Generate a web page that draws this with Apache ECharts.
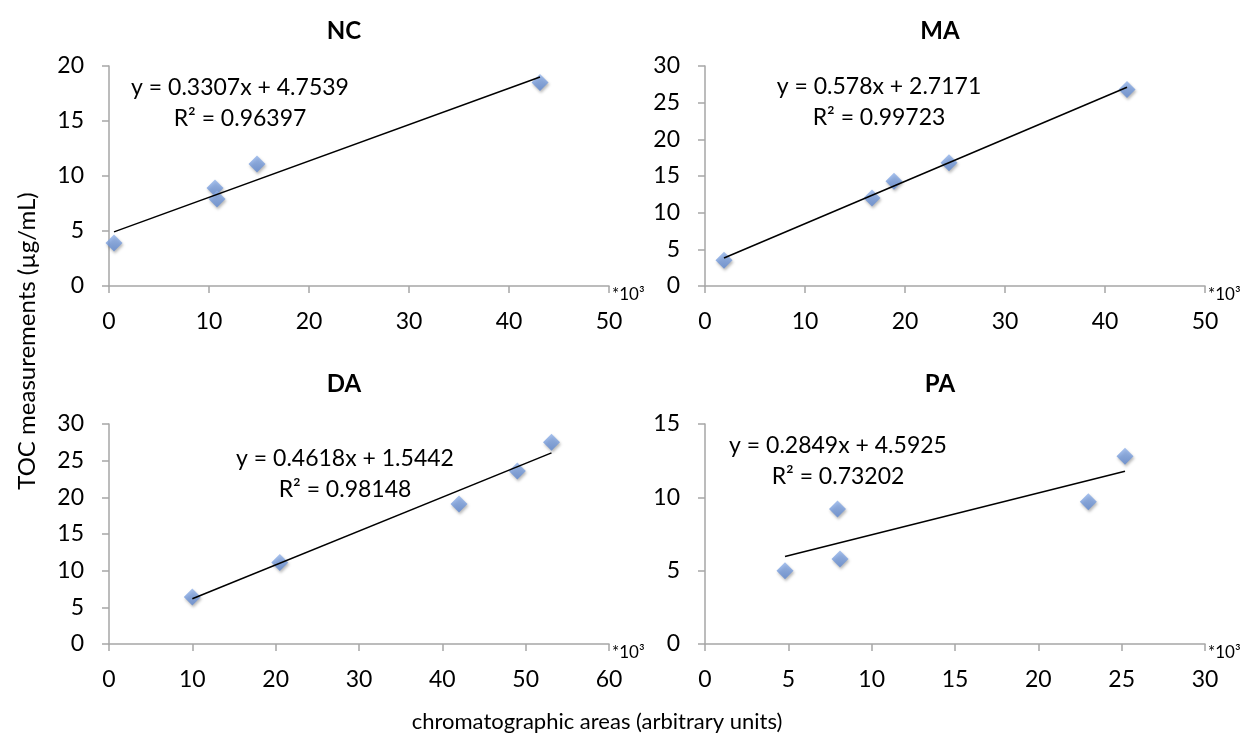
<!DOCTYPE html>
<html>
<head>
<meta charset="utf-8">
<script src="https://cdn.jsdelivr.net/npm/echarts@6/dist/echarts.min.js"></script>
<style>
  html, body { margin: 0; padding: 0; background: #fff; }
  #chart { width: 1248px; height: 748px; }
</style>
</head>
<body>
<div id="chart"></div>
<script>
// Panel names
const panels = ['NC', 'MA', 'DA', 'PA'];

// Chromatographic areas (x, in thousands) and TOC (µg/mL) per panel
const ncArea = [0.5, 10.6, 10.8, 14.8, 43.1];
const ncToc  = [3.9, 8.9, 7.9, 11.1, 18.5];
const maArea = [1.9, 16.7, 18.9, 24.4, 42.2];
const maToc  = [3.5, 12.0, 14.3, 16.8, 26.8];
const daArea = [10.0, 20.5, 42.0, 49.0, 53.1];
const daToc  = [6.4, 11.1, 19.1, 23.6, 27.5];
const paArea = [4.8, 7.95, 8.1, 23.0, 25.2];
const paToc  = [5.0, 9.2, 5.8, 9.7, 12.8];

// Linear fits (slope, intercept, R²)
const slopes     = [0.3307, 0.578, 0.4618, 0.2849];
const intercepts = [4.7539, 2.7171, 1.5442, 4.5925];
const r2Values   = ['0.96397', '0.99723', '0.98148', '0.73202'];

// Axis ranges
const xMax = [50, 50, 60, 30];
const xStep = [10, 10, 10, 5];
const yMax = [20, 30, 30, 15];
const yStep = [5, 5, 5, 5];

const areas = [ncArea, maArea, daArea, paArea];
const tocs = [ncToc, maToc, daToc, paToc];

const FONT = 'Lato, "Open Sans", sans-serif';
const axisGrey = '#a6a6a6';

const grids = [
  { left: 109, top: 66, width: 500, height: 220 },
  { left: 705, top: 66, width: 500, height: 220 },
  { left: 109, top: 424, width: 500, height: 220 },
  { left: 705, top: 424, width: 500, height: 220 }
];

const xAxes = panels.map((p, i) => ({
  type: 'value', gridIndex: i, min: 0, max: xMax[i], interval: xStep[i],
  name: '*10³', nameLocation: 'end', nameGap: 3,
  nameTextStyle: { fontFamily: FONT, fontSize: 17, color: '#000', verticalAlign: 'top', padding: [0, 0, 0, 0] },
  axisLine: { show: true, lineStyle: { color: axisGrey, width: 1.5 } },
  axisTick: { show: true, length: 7, lineStyle: { color: axisGrey, width: 1.5 } },
  axisLabel: { fontFamily: FONT, fontSize: 23, color: '#000', margin: 24 },
  splitLine: { show: false }
}));

const yAxes = panels.map((p, i) => ({
  type: 'value', gridIndex: i, min: 0, max: yMax[i], interval: yStep[i],
  axisLine: { show: true, lineStyle: { color: axisGrey, width: 1.5 } },
  axisTick: { show: true, length: 7, lineStyle: { color: axisGrey, width: 1.5 } },
  axisLabel: { fontFamily: FONT, fontSize: 23, color: '#000', margin: 25 },
  splitLine: { show: false }
}));

const markerColor = new echarts.graphic.LinearGradient(0, 0, 0, 1, [
  { offset: 0, color: '#92b3ea' },
  { offset: 1, color: '#5f88d0' }
]);

const series = [];
panels.forEach((p, i) => {
  series.push({
    type: 'scatter', name: p, xAxisIndex: i, yAxisIndex: i,
    symbol: 'diamond', symbolSize: [17, 17], z: 2,
    itemStyle: {
      color: markerColor,
      shadowBlur: 3, shadowColor: 'rgba(0,0,0,0.35)', shadowOffsetX: 1, shadowOffsetY: 2
    },
    data: areas[i].map((x, k) => [x, tocs[i][k]])
  });
  const lo = Math.min(...areas[i]);
  const hi = Math.max(...areas[i]);
  series.push({
    type: 'line', name: p + ' fit', xAxisIndex: i, yAxisIndex: i,
    showSymbol: false, silent: true, z: 3,
    lineStyle: { color: '#000', width: 1.5 },
    data: [[lo, slopes[i] * lo + intercepts[i]], [hi, slopes[i] * hi + intercepts[i]]]
  });
});

// Text placement: panel titles and fit equations
const titlePos = [[344, 31], [940, 31], [344, 384], [940, 384]];
const eqPos = [[240, 88], [879, 87], [345, 459], [838, 446]];

function txt(x, y, text, font, extra) {
  return Object.assign({
    type: 'text', x: x, y: y, silent: true,
    style: { text: text, font: font, fill: '#000', align: 'center', verticalAlign: 'middle',
             textAlign: 'center', textVerticalAlign: 'middle' }
  }, extra || {});
}

const graphics = [];
panels.forEach((p, i) => {
  graphics.push(txt(titlePos[i][0], titlePos[i][1], p, 'bold 24px ' + FONT));
  graphics.push(txt(eqPos[i][0], eqPos[i][1], 'y = ' + slopes[i] + 'x + ' + intercepts[i], '23px ' + FONT));
  graphics.push(txt(eqPos[i][0], eqPos[i][1] + 31, 'R² = ' + r2Values[i], '23px ' + FONT));
});
graphics.push(txt(597, 722, 'chromatographic areas (arbitrary units)', '22px ' + FONT));
graphics.push(txt(27, 341, 'TOC measurements (µg/mL)', '24px ' + FONT, { rotation: Math.PI / 2 }));

const chart = echarts.init(document.getElementById('chart'), null, { renderer: 'canvas' });
chart.setOption({
  backgroundColor: '#fff',
  animation: false,
  grid: grids,
  xAxis: xAxes,
  yAxis: yAxes,
  series: series,
  graphic: graphics
});
</script>
</body>
</html>
